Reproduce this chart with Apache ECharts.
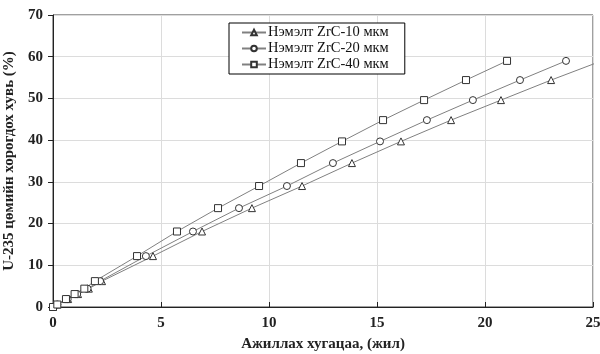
<!DOCTYPE html>
<html>
<head>
<meta charset="utf-8">
<script src="https://cdn.jsdelivr.net/npm/echarts@6/dist/echarts.min.js"></script>
<style>
  html, body { margin: 0; padding: 0; background: #fff; }
  #chart { width: 600px; height: 354px; }
</style>
</head>
<body>
<div id="chart"></div>
<script>
// Series names
const seriesNames = ['Нэмэлт ZrC-10 мкм', 'Нэмэлт ZrC-20 мкм', 'Нэмэлт ZrC-40 мкм'];

// Burnup (%) reached at each step, shared by all three series
const burnup = [0, 0.6, 1.9, 3.1, 4.4, 6.2, 12.2, 18.1, 23.7, 29.0, 34.5, 39.7, 44.8, 49.6, 54.4, 59.0];

// Operating time (years) at each step
const years10 = [0, 0.22, 0.70, 1.16, 1.66, 2.27, 4.63, 6.90, 9.21, 11.53, 13.84, 16.11, 18.43, 20.74, 23.06, 25.40];
const years20 = [0, 0.20, 0.68, 1.12, 1.60, 2.18, 4.30, 6.48, 8.61, 10.83, 12.96, 15.14, 17.31, 19.44, 21.62, 23.75];
const years40 = [0, 0.20, 0.60, 1.00, 1.45, 1.94, 3.89, 5.74, 7.64, 9.54, 11.48, 13.38, 15.28, 17.18, 19.12, 21.02];

const xTicks = [0, 5, 10, 15, 20, 25];
const yTicks = [0, 10, 20, 30, 40, 50, 60, 70];

const FONT = '"Liberation Serif", "Times New Roman", serif';

function pairs(xs, ys) {
  return xs.map((x, i) => [x, ys[i]]);
}

function makeSeries(name, xs, symbol, size) {
  return {
    name: name,
    type: 'line',
    data: pairs(xs, burnup),
    symbol: symbol,
    symbolSize: size,
    showAllSymbol: true,
    clip: true,
    lineStyle: { color: '#808080', width: 1 },
    itemStyle: { color: '#ffffff', borderColor: '#333333', borderWidth: 1 },
    emphasis: { disabled: true },
    z: 3
  };
}

const chart = echarts.init(document.getElementById('chart'), null, { renderer: 'canvas' });

chart.setOption({
  animation: false,
  backgroundColor: '#ffffff',
  grid: {
    left: 53, right: 7, top: 15, bottom: 47,
    outerBoundsMode: 'none',
    containLabel: false,
    show: true, borderColor: '#404040', borderWidth: 1
  },
  legend: {
    orient: 'vertical',
    left: 229, top: 23,
    width: 175,
    padding: [2, 16, 2, 12],
    itemGap: 1,
    itemWidth: 24,
    itemHeight: 7,
    backgroundColor: '#ffffff',
    borderColor: '#000000',
    borderWidth: 1,
    borderRadius: 0,
    data: seriesNames,
    textStyle: { fontFamily: FONT, fontSize: 14.5, color: '#111', padding: [0, 0, 0, -3] }
  },
  xAxis: {
    type: 'value',
    min: xTicks[0], max: xTicks[xTicks.length - 1], interval: 5,
    name: 'Ажиллах хугацаа, (жил)',
    nameLocation: 'middle',
    nameGap: 30,
    nameTextStyle: { fontFamily: FONT, fontSize: 15, fontWeight: 'bold', color: '#222' },
    axisLine: { show: true, lineStyle: { color: '#222', width: 1 } },
    axisTick: { show: true, inside: true, length: 5, lineStyle: { color: '#222' } },
    axisLabel: { fontFamily: FONT, fontSize: 15, fontWeight: 'bold', color: '#222', margin: 9 },
    splitLine: { show: true, lineStyle: { color: '#dcdcdc', width: 1 } }
  },
  yAxis: {
    type: 'value',
    min: yTicks[0], max: yTicks[yTicks.length - 1], interval: 10,
    name: 'U-235 цөмийн хорогдох хувь (%)',
    nameLocation: 'middle',
    nameGap: 33,
    nameTextStyle: { fontFamily: FONT, fontSize: 15, fontWeight: 'bold', color: '#222' },
    axisLine: { show: true, lineStyle: { color: '#222', width: 1 } },
    axisTick: { show: true, inside: false, length: 5, lineStyle: { color: '#222' } },
    axisLabel: { fontFamily: FONT, fontSize: 15, fontWeight: 'bold', color: '#222', margin: 10 },
    splitLine: { show: true, lineStyle: { color: '#dcdcdc', width: 1 } }
  },
  series: [
    makeSeries(seriesNames[0], years10, 'triangle', 7),
    makeSeries(seriesNames[1], years20, 'circle', 7),
    makeSeries(seriesNames[2], years40, 'rect', 7)
  ]
});
</script>
</body>
</html>
